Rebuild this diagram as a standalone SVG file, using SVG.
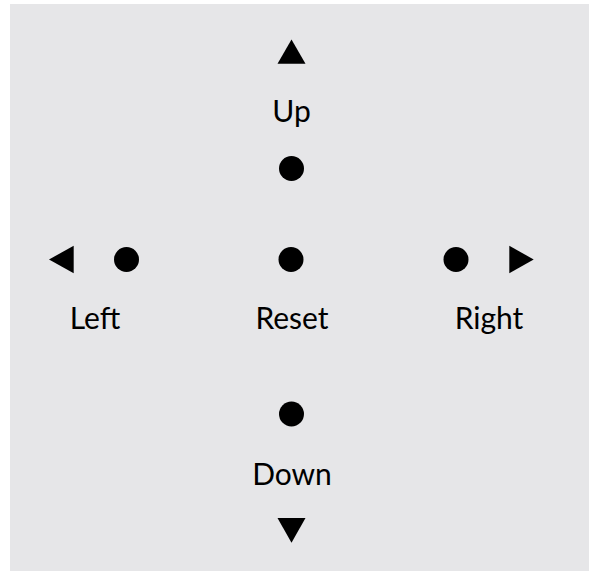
<svg xmlns="http://www.w3.org/2000/svg" width="589" height="571" viewBox="0 0 589 571">
<style>
.lbl{font-family:Lato,"Open Sans","Liberation Sans",sans-serif;font-size:30px;fill:#000;text-anchor:middle}
.dot{fill:#000}
.arr{fill:#000}
</style>
<rect x="10" y="4" width="579" height="567" fill="#e6e6e8"/>
<g id="up">
<polygon class="arr" points="291.5,39.5 277.5,63.7 305.5,63.7"/>
<text class="lbl" x="291.5" y="121.7">Up</text>
<circle class="dot" cx="291.5" cy="168.5" r="12.5"/>
</g>
<g id="left">
<polygon class="arr" points="49,259.5 73.7,245.7 73.7,273.3"/>
<circle class="dot" cx="126.5" cy="259.5" r="12.5"/>
<text class="lbl" x="95" y="329.3">Left</text>
</g>
<g id="reset">
<circle class="dot" cx="291" cy="259.5" r="12.5"/>
<text class="lbl" x="292" y="329.3">Reset</text>
</g>
<g id="right">
<circle class="dot" cx="456" cy="259.5" r="12.5"/>
<polygon class="arr" points="533.7,259.5 509.3,245.7 509.3,273.3"/>
<text class="lbl" x="489" y="329.3">Right</text>
</g>
<g id="down">
<circle class="dot" cx="291.5" cy="414" r="12.5"/>
<text class="lbl" x="292" y="485">Down</text>
<polygon class="arr" points="291.5,542.7 277.5,518 305.5,518"/>
</g>
<g id="connectors"/>
</svg>
